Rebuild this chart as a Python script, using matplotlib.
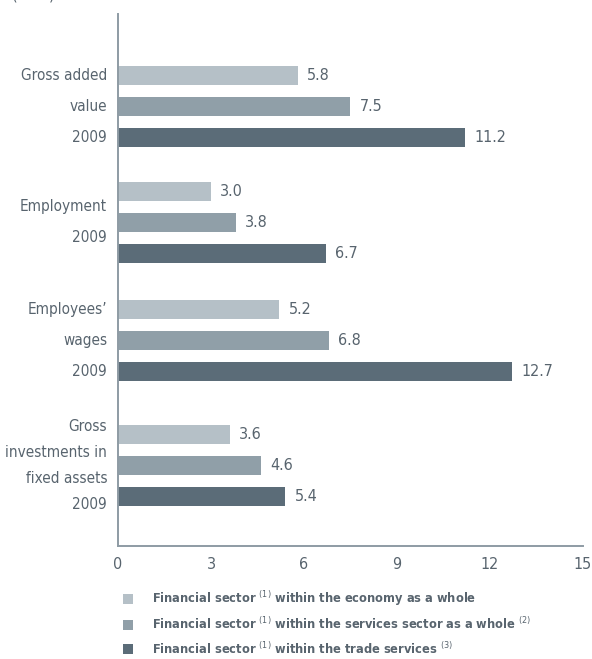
#!/usr/bin/env python3
"""Weight of the financial sector, 2009 (in %)."""
import matplotlib
matplotlib.use("Agg")
import matplotlib.pyplot as plt

groups = ["Gross added\nvalue\n2009", "Employment\n2009",
          "Employees\u2019\nwages\n2009", "Gross\ninvestments in\nfixed assets\n2009"]
economy = [5.8, 3.0, 5.2, 3.6]
services = [7.5, 3.8, 6.8, 4.6]
trade = [11.2, 6.7, 12.7, 5.4]
series_names = [
    r"Financial sector $^{(1)}$ within the economy as a whole",
    r"Financial sector $^{(1)}$ within the services sector as a whole $^{(2)}$",
    r"Financial sector $^{(1)}$ within the trade services $^{(3)}$",
]
xticks = [0, 3, 6, 9, 12, 15]

colors = ["#b5c0c7", "#909fa8", "#5b6c78"]
text_c = "#58646e"
plt.rcParams["font.family"] = ["DejaVu Sans"]
plt.rcParams["font.stretch"] = "condensed"
plt.rcParams["mathtext.fontset"] = "custom"
plt.rcParams["mathtext.rm"] = "DejaVu Sans:stretch=condensed"
plt.rcParams["mathtext.bf"] = "DejaVu Sans:bold:stretch=condensed"

# middle-bar position of each group, in bar-row units (rows grow downwards)
group_pos = [0, 3.75, 7.55, 11.6]
label_gap = [1.0, 1.0, 1.0, 0.84]

fig = plt.figure(figsize=(5.92, 6.59), dpi=100)
ax = fig.add_axes([0.1993, 0.1715, 0.7855, 0.8073])

for k, (vals, c) in enumerate(zip([economy, services, trade], colors)):
    ys = [g + (k - 1) for g in group_pos]
    ax.barh(ys, vals, height=0.61, color=c, label=series_names[k])
    for y, v in zip(ys, vals):
        ax.text(v + 0.3, y, f"{v:.1f}", va="center", ha="left",
                fontsize=11.5, color=text_c)

for g, lab, gap in zip(group_pos, groups, label_gap):
    lines = lab.split("\n")
    n = len(lines)
    for i, line in enumerate(lines):
        y = g + (i - (n - 1) / 2) * gap
        ax.text(-0.35, y, line, ha="right", va="center", fontsize=11,
                color=text_c)

ax.set_xlim(0, 15)
ax.set_ylim(14.19, -2.97)
ax.set_xticks(xticks)
ax.set_xticklabels([str(t) for t in xticks], fontsize=11.5, color=text_c)
ax.tick_params(axis="x", length=0, pad=8)
ax.set_yticks([])
for s in ["top", "right"]:
    ax.spines[s].set_visible(False)
for s in ["left", "bottom"]:
    ax.spines[s].set_color("#8e9ba4")
    ax.spines[s].set_linewidth(1.4)

fig.text(0.02, 1.007, "(in %)", ha="left", va="center", fontsize=11.5,
         color=text_c)

leg = fig.legend(loc="upper left", bbox_to_anchor=(0.207, 0.106), frameon=False,
                 handlelength=0.85, handleheight=0.85, handletextpad=1.45,
                 labelspacing=0.66, borderaxespad=0, borderpad=0,
                 prop={"size": 9.2, "weight": "bold", "stretch": "condensed"})
for t in leg.get_texts():
    t.set_color(text_c)

fig.savefig("out.png", dpi=100)
print("wrote out.png")
